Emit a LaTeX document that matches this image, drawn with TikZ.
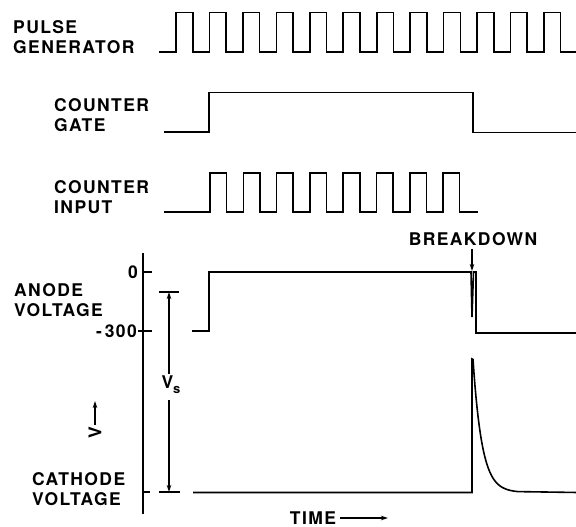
\documentclass[tikz,border=0pt]{standalone}
\usepackage{fontspec}
\setmainfont{TeX Gyre Heros}[LetterSpace=8]
\usetikzlibrary{arrows.meta}

\tikzset{
  wave/.style={line width=1.6pt, line join=miter},
  lbl/.style={font=\fontsize{17.5}{20}\selectfont\bfseries, inner sep=0pt, align=left, anchor=west},
  dim/.style={line width=1.3pt}
}

\begin{document}
\begin{tikzpicture}[x=1pt, y=-1pt, >={Stealth[length=7pt,width=4.5pt]}]

  \useasboundingbox (0,0) rectangle (576,527);

  % pulse generator : 12 pulses
  \node[lbl] (pulse) at (13,37) {PULSE\\GENERATOR};
  \draw[wave] (159,52) foreach \i in {0,...,11} {
      -- ({176+33.45*\i},52) -- ++(0,-39.5) -- ++(16.7,0) -- ++(0,39.5) } -- (578,52);

  % counter gate
  \node[lbl] (gate) at (54,115) {COUNTER\\GATE};
  \draw[wave] (164,132) -- (209,132) -- (209,92.5) -- (473,92.5) -- (473,132.5) -- (576,132.5);

  % counter input : 8 pulses while the gate is open
  \node[lbl] (input) at (54,197) {COUNTER\\INPUT};
  \draw[wave] (164,212) foreach \i in {0,...,7} {
      -- ({210+33.3*\i},212) -- ++(0,-39) -- ++(16.5,0) -- ++(0,39) } -- (478,212);

  % voltage axis
  \draw[line width=1.4pt] (143,253) -- (143,514);
  \draw[line width=1.4pt] (143,272) -- (152,272);
  \draw[line width=1.4pt] (138,331) -- (152,331);
  \draw[line width=1.4pt] (143,492) -- (150,492);
  \node[lbl, anchor=east] (zero) at (138,272) {0};
  \node[lbl, anchor=east] (minus) at (137,331) {-\,300};

  % anode voltage
  \node[lbl] (anode) at (14,300) {ANODE\\VOLTAGE};
  \draw[wave, miter limit=20] (192,331) -- (209,331) -- (209,272) -- (471,272) -- (472,317)
    -- (473.5,272) -- (476,272) -- (476,333) -- (578,333);

  % breakdown
  \node[lbl, anchor=center] (brk) at (473,239) {BREAKDOWN};
  \coordinate (brkpt) at (472,271);
  \draw[dim, ->] (brkpt |- brk.south) ++(0,3) -- (brkpt);

  % cathode voltage
  \node[lbl] (cathode) at (32,489) {CATHODE\\VOLTAGE};
  \draw[wave] (193,492.5) -- (472,492.5) -- (472,359)
    -- plot[domain=0:45, samples=46] ({473+\x},{492.5-133*exp(-\x/9)}) -- (578,492.5);

  % sustaining voltage V_s
  \node[lbl, anchor=center] (vs) at (171,385) {V\raisebox{-5pt}{\fontsize{13}{13}\selectfont s}};
  \coordinate (vstop) at (169,292);
  \coordinate (vsbot) at (169,492);
  \draw[dim] (159,292) -- (179,292);
  \draw[dim] (159,492) -- (180,492);
  \draw[dim, ->] (vstop |- vs.north) ++(0,-2) -- (vstop);
  \draw[dim, ->] (vsbot |- vs.south) ++(0,6) -- (vsbot);

  % axis labels
  \node[lbl, anchor=center, rotate=90] (vlab) at (95,433) {V};
  \coordinate (vtip) at (95,401);
  \draw[dim, ->] (vlab.east) ++(0,-2) -- (vtip);
  \node[lbl, anchor=center] (time) at (313,518) {TIME};
  \coordinate (ttip) at (388,518);
  \draw[dim, ->] (time.east) ++(4,0) -- (ttip);

\end{tikzpicture}
\end{document}
